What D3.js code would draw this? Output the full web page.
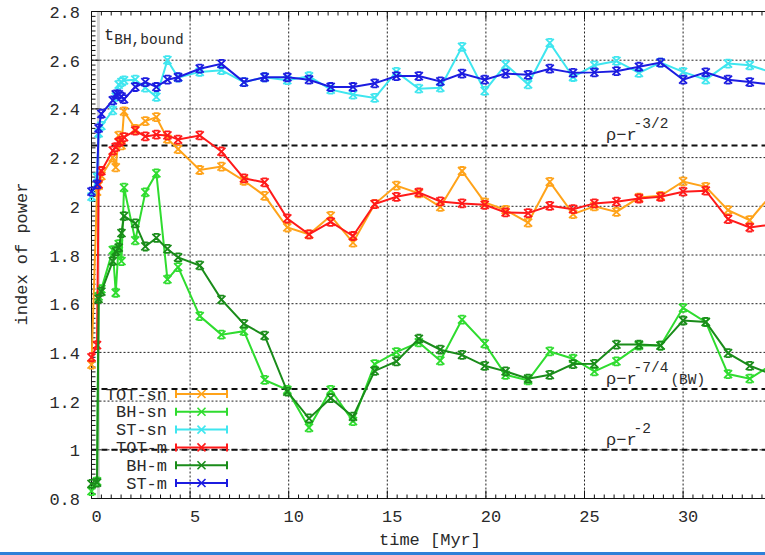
<!DOCTYPE html>
<html>
  <head>
    <meta charset="utf-8" />
    <title>index of power</title>
    <script src="https://d3js.org/d3.v7.min.js"></script>
    <style>
      body {
        margin: 0;
        background-color: white;
      }
      text {
        font-family: "Liberation Mono", "DejaVu Sans Mono", monospace;
        fill: #2a2a2a;
      }
    </style>
  </head>
  <body>
    <svg id="chart"></svg>

    <script>

      // snapshot times [Myr]
      var times = [0, 0.28, 0.36, 0.5, 1.08, 1.23, 1.38, 1.52, 1.65, 2.22, 2.73, 3.29, 3.85, 4.39,
        5.49, 6.59, 7.73, 8.78, 9.93, 11.03, 12.13, 13.26, 14.36, 15.46, 16.6, 17.69, 18.79, 19.94,
        21.0, 22.14, 23.24, 24.42, 25.5, 26.62, 27.76, 28.86, 30.0, 31.15, 32.28, 33.38, 34.5];

      var totSn = [1.35, 2.06, 2.085, 2.125, 2.2, 2.16, 2.29, 2.25, 2.39, 2.318, 2.35, 2.366, 2.277, 2.235,
        2.149, 2.163, 2.105, 2.043, 1.913, 1.885, 1.961, 1.851, 2.009, 2.085, 2.053, 1.998, 2.145, 2.016,
        1.985, 1.933, 2.1, 1.968, 2.0, 1.977, 2.036, 2.043, 2.102, 2.08, 1.984, 1.943, 2.05];
      var bhSn = [0.83, 0.87, 1.63, 1.66, 1.82, 1.645, 1.845, 1.775, 2.077, 1.86, 2.057, 2.135, 1.70, 1.75,
        1.549, 1.473, 1.487, 1.287, 1.246, 1.091, 1.246, 1.118, 1.352, 1.401, 1.441, 1.366, 1.535, 1.436,
        1.308, 1.285, 1.404, 1.374, 1.322, 1.363, 1.428, 1.428, 1.583, 1.524, 1.311, 1.292, 1.35];
      var stSn = [2.04, 2.12, 2.3, 2.33, 2.394, 2.45, 2.5, 2.51, 2.517, 2.52, 2.487, 2.449, 2.6, 2.529,
        2.552, 2.559, 2.51, 2.53, 2.518, 2.534, 2.479, 2.459, 2.445, 2.552, 2.483, 2.487, 2.655, 2.474,
        2.582, 2.501, 2.671, 2.531, 2.579, 2.597, 2.548, 2.59, 2.552, 2.52, 2.586, 2.579, 2.55];
      var totM = [1.38, 1.43, 2.09, 2.145, 2.229, 2.243, 2.263, 2.27, 2.284, 2.311, 2.287, 2.294, 2.291, 2.274,
        2.291, 2.225, 2.115, 2.098, 1.95, 1.885, 1.936, 1.878, 2.009, 2.039, 2.057, 2.02, 2.012, 2.006,
        1.975, 1.972, 2.002, 1.988, 2.012, 2.019, 2.032, 2.039, 2.06, 2.064, 1.947, 1.913, 1.925];
      var bhM = [0.86, 0.865, 1.62, 1.65, 1.775, 1.815, 1.83, 1.89, 1.96, 1.93, 1.835, 1.87, 1.825, 1.79,
        1.757, 1.617, 1.517, 1.469, 1.239, 1.129, 1.212, 1.136, 1.324, 1.363, 1.456, 1.411, 1.39, 1.345,
        1.322, 1.292, 1.308, 1.352, 1.353, 1.432, 1.432, 1.428, 1.531, 1.525, 1.397, 1.345, 1.31];
      var stM = [2.06, 2.09, 2.32, 2.38, 2.435, 2.46, 2.46, 2.45, 2.44, 2.49, 2.51, 2.49, 2.52, 2.53,
        2.565, 2.585, 2.51, 2.53, 2.53, 2.52, 2.49, 2.49, 2.505, 2.535, 2.535, 2.513, 2.545, 2.52,
        2.545, 2.54, 2.565, 2.548, 2.55, 2.555, 2.573, 2.59, 2.52, 2.55, 2.52, 2.51, 2.5];

      var seriesNames = ["TOT-sn", "BH-sn", "ST-sn", "TOT-m", "BH-m", "ST-m"];
      var seriesValues = [totSn, bhSn, stSn, totM, bhM, stM];
      var seriesColors = ["#ffa31a", "#2fdc2f", "#3fe6ef", "#ff1a1a", "#1a8c1a", "#1c1ce0"];

      // reference slopes
      var refValues = [2.25, 1.25, 1.0];
      var refLabels = [["ρ−r", "-3/2", ""], ["ρ−r", "-7/4", "(BW)"], ["ρ−r", "-2", ""]];

      var tBound = 0.35;
      var xTicks = [0, 5, 10, 15, 20, 25, 30];
      var yTicks = [0.8, 1, 1.2, 1.4, 1.6, 1.8, 2, 2.2, 2.4, 2.6, 2.8];

      var width = 765;
      var height = 555;
      var plotLeft = 91.5, plotRight = 785, plotTop = 11.5, plotBottom = 498.5;

      var svg = d3.select("#chart")
        .attr("width", width)
        .attr("height", height);

      var x = d3.scaleLinear()
        .domain([0, 35])
        .range([plotLeft, plotLeft + 35 * 19.72]);

      var y = d3.scaleLinear()
        .domain([0.8, 2.8])
        .range([plotBottom, plotTop]);

      svg.append("clipPath").attr("id", "clip")
        .append("rect")
        .attr("x", 0).attr("y", plotTop - 6)
        .attr("width", width).attr("height", plotBottom - plotTop + 12);

      // t_BH,bound marker
      svg.append("line")
        .attr("x1", x(tBound)).attr("x2", x(tBound))
        .attr("y1", plotTop).attr("y2", plotBottom)
        .attr("stroke", "#d4d4d4")
        .attr("stroke-width", 3);

      // grid
      var grid = svg.append("g").attr("stroke", "#222").attr("stroke-width", 1)
        .attr("stroke-dasharray", "2,2");
      grid.selectAll(".gx")
        .data(xTicks.filter(function(d) { return d > 0; }))
        .enter().append("line")
        .attr("x1", function(d) { return x(d); })
        .attr("x2", function(d) { return x(d); })
        .attr("y1", plotTop).attr("y2", plotBottom);
      grid.selectAll(".gy")
        .data(yTicks.filter(function(d) { return d > 0.8 && d < 2.8; }))
        .enter().append("line")
        .attr("x1", plotLeft).attr("x2", plotRight)
        .attr("y1", function(d) { return y(d); })
        .attr("y2", function(d) { return y(d); });

      // dashed slope lines
      svg.append("g").selectAll("line")
        .data(refValues)
        .enter().append("line")
        .attr("x1", plotLeft).attr("x2", plotRight)
        .attr("y1", function(d) { return y(d); })
        .attr("y2", function(d) { return y(d); })
        .attr("stroke", "#111")
        .attr("stroke-width", 2)
        .attr("stroke-dasharray", "6,4");

      var refText = svg.append("g").selectAll("text")
        .data(refValues)
        .enter().append("text")
        .attr("x", 606)
        .attr("y", function(d) { return y(d) - 5; })
        .attr("font-size", "17px");
      refText.append("tspan").text(function(d, i) { return refLabels[i][0]; });
      refText.append("tspan")
        .attr("dy", -12).attr("dx", -3)
        .attr("font-size", "14.5px")
        .text(function(d, i) { return refLabels[i][1]; });
      refText.append("tspan")
        .attr("dy", 12).attr("dx", 2)
        .attr("font-size", "14.5px")
        .text(function(d, i) { return refLabels[i][2]; });

      // frame
      svg.append("line")
        .attr("x1", plotLeft).attr("x2", plotRight)
        .attr("y1", plotTop).attr("y2", plotTop)
        .attr("stroke", "#111");
      svg.append("line")
        .attr("x1", plotLeft).attr("x2", plotRight)
        .attr("y1", plotBottom).attr("y2", plotBottom)
        .attr("stroke", "#111");
      svg.append("line")
        .attr("x1", plotLeft).attr("x2", plotLeft)
        .attr("y1", plotTop).attr("y2", plotBottom)
        .attr("stroke", "#111");

      // ticks
      var xMinor = d3.range(0, 35.01, 0.5);
      var yMinor = d3.range(0.8, 2.801, 0.02);
      var ticks = svg.append("g").attr("stroke", "#111").attr("stroke-width", 1);
      ticks.selectAll(".xb")
        .data(xMinor)
        .enter().append("line")
        .attr("x1", function(d) { return x(d); })
        .attr("x2", function(d) { return x(d); })
        .attr("y1", plotBottom)
        .attr("y2", function(d) { return plotBottom - (d % 5 === 0 ? 8 : 4); });
      ticks.selectAll(".xt")
        .data(xMinor)
        .enter().append("line")
        .attr("x1", function(d) { return x(d); })
        .attr("x2", function(d) { return x(d); })
        .attr("y1", plotTop)
        .attr("y2", function(d) { return plotTop + (d % 5 === 0 ? 8 : 4); });
      ticks.selectAll(".yl")
        .data(yMinor)
        .enter().append("line")
        .attr("x1", plotLeft)
        .attr("x2", function(d, i) { return plotLeft + (i % 10 === 0 ? 8 : 4); })
        .attr("y1", function(d) { return y(d); })
        .attr("y2", function(d) { return y(d); });

      svg.append("g").selectAll("text")
        .data(xTicks)
        .enter().append("text")
        .attr("x", function(d) { return x(d) + 5; })
        .attr("y", 522)
        .attr("text-anchor", "middle")
        .attr("font-size", "17px")
        .text(function(d) { return d; });

      svg.append("g").selectAll("text")
        .data(yTicks)
        .enter().append("text")
        .attr("x", 80)
        .attr("y", function(d) { return y(d) + 6.5; })
        .attr("text-anchor", "end")
        .attr("font-size", "17px")
        .text(function(d) { return d3.format("")(+d.toFixed(1)); });

      svg.append("text")
        .attr("x", 430).attr("y", 545)
        .attr("text-anchor", "middle")
        .attr("font-size", "17px")
        .text("time [Myr]");

      svg.append("text")
        .attr("transform", "translate(27,254) rotate(-90)")
        .attr("text-anchor", "middle")
        .attr("font-size", "17px")
        .text("index of power");

      var tLabel = svg.append("text")
        .attr("x", 104).attr("y", 40)
        .attr("font-size", "17px");
      tLabel.append("tspan").text("t");
      tLabel.append("tspan")
        .attr("dy", 4)
        .attr("font-size", "14.5px")
        .text("BH,bound");

      // series
      function marker(sel, s) {
        sel.append("path")
          .attr("d", "M" + (-s) + "," + (-s) + "L" + s + "," + s +
            "M" + (-s) + "," + s + "L" + s + "," + (-s) +
            "M" + (-s + 1.5) + "," + (-s) + "H" + (s - 1.5) +
            "M" + (-s + 1.5) + "," + s + "H" + (s - 1.5));
      }

      var line = d3.line()
        .x(function(d) { return x(d[0]); })
        .y(function(d) { return y(d[1]); });

      var plot = svg.append("g").attr("clip-path", "url(#clip)");

      seriesValues.forEach(function(vals, k) {
        var pts = times.map(function(t, i) { return [t, vals[i]]; });
        var g = plot.append("g");
        g.append("path")
          .datum(pts)
          .attr("d", line)
          .attr("fill", "none")
          .attr("stroke", seriesColors[k])
          .attr("stroke-width", 2);
        g.selectAll(".pt")
          .data(pts)
          .enter().append("g")
          .attr("transform", function(d) { return "translate(" + x(d[0]) + "," + y(d[1]) + ")"; })
          .attr("fill", "none")
          .attr("stroke", seriesColors[k])
          .attr("stroke-width", 1.8)
          .each(function() { marker(d3.select(this), 4); });
      });

      // legend
      var legend = svg.append("g").selectAll("g")
        .data(seriesNames)
        .enter().append("g")
        .attr("transform", function(d, i) { return "translate(0," + (394 + i * 17.8) + ")"; });
      legend.append("text")
        .attr("x", 167).attr("y", 5.5)
        .attr("text-anchor", "end")
        .attr("font-size", "17px")
        .text(function(d) { return d; });
      legend.append("path")
        .attr("d", "M176,0H227M176,-4V4M227,-4V4")
        .attr("fill", "none")
        .attr("stroke", function(d, i) { return seriesColors[i]; })
        .attr("stroke-width", 2);
      legend.append("g")
        .attr("transform", "translate(201.5,0)")
        .attr("fill", "none")
        .attr("stroke", function(d, i) { return seriesColors[i]; })
        .attr("stroke-width", 1.6)
        .each(function() {
          d3.select(this).append("path").attr("d", "M-4,-4L4,4M-4,4L4,-4");
        });

      // window edge strip
      svg.append("rect")
        .attr("x", 0).attr("y", 552)
        .attr("width", width).attr("height", 3)
        .attr("fill", "#2f80d8");

    </script>
  </body>
</html>
